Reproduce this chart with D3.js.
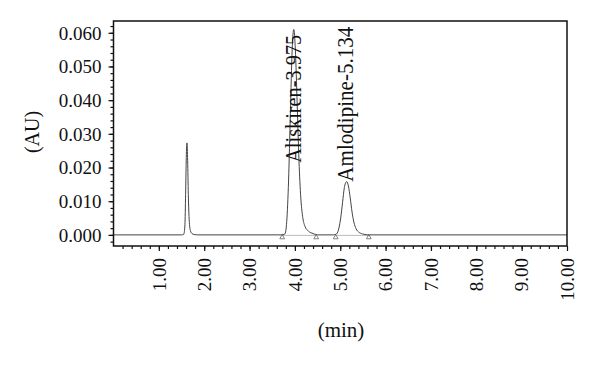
<!DOCTYPE html>
<html>
<head>
<meta charset="utf-8">
<script src="https://cdn.jsdelivr.net/npm/d3@7"></script>
<style>
body { margin: 0; background: #fff; }
svg { display: block; }
text { font-family: "Liberation Serif", "DejaVu Serif", serif; fill: #111; }
</style>
</head>
<body>
<svg width="600" height="365"></svg>
<script>
// chromatogram trace, [time (min), absorbance (AU)]
var trace = [
    [0.00, 0], [1.50, 0], [1.55, 0.0002], [1.575, 0.003], [1.59, 0.012], [1.605, 0.023],
    [1.62, 0.0273], [1.635, 0.022], [1.65, 0.012], [1.665, 0.0055], [1.68, 0.0025],
    [1.70, 0.0011], [1.73, 0.0004], [1.78, 0.0001], [1.85, 0],
    [3.70, 0], [3.78, 0.0003], [3.82, 0.004], [3.86, 0.016], [3.90, 0.036], [3.94, 0.055],
    [3.975, 0.061], [4.01, 0.055], [4.05, 0.039], [4.09, 0.022], [4.13, 0.011],
    [4.17, 0.0055], [4.22, 0.0026], [4.30, 0.0011], [4.40, 0.0004], [4.50, 0],
    [4.85, 0], [4.92, 0.0003], [4.97, 0.002], [5.01, 0.005], [5.05, 0.0095], [5.09, 0.014],
    [5.14, 0.0158], [5.18, 0.0145], [5.22, 0.011], [5.26, 0.0068], [5.30, 0.0038],
    [5.35, 0.0018], [5.41, 0.0008], [5.49, 0.0003], [5.60, 0],
    [10.00, 0]
];

// integration start/end markers
var peakMarks = [[3.72, 4.47], [4.90, 5.63]];

var peakNames = ["Aliskiren-3.975", "Amlodipine-5.134"];
var peakTimes = [3.975, 5.134];
var labelBase = [0.0214, 0.0158];

var xTicks = [1, 2, 3, 4, 5, 6, 7, 8, 9, 10];
var xTickLabels = ["1.00", "2.00", "3.00", "4.00", "5.00", "6.00", "7.00", "8.00", "9.00", "10.00"];
var yTicks = [0, 0.01, 0.02, 0.03, 0.04, 0.05, 0.06];
var yTickLabels = ["0.000", "0.010", "0.020", "0.030", "0.040", "0.050", "0.060"];

var svg = d3.select("svg");
var pLeft = 113.5, pRight = 567, pTop = 21, pBottom = 246;

var x = d3.scaleLinear().domain([0, 10]).range([pLeft, pRight]);
var y = d3.scaleLinear().domain([-0.0033, 0.0635]).range([pBottom, pTop]);

// minor ticks
svg.append("g")
    .attr("transform", "translate(0," + pBottom + ")")
    .call(d3.axisBottom(x).tickValues(d3.range(0.2, 10, 0.2)).tickSize(3).tickFormat(""))
    .call(function(g) { g.select(".domain").remove(); });
svg.append("g")
    .attr("transform", "translate(" + pLeft + ",0)")
    .call(d3.axisLeft(y).tickValues(d3.range(-0.002, 0.0635, 0.002)).tickSize(3).tickFormat(""))
    .call(function(g) { g.select(".domain").remove(); });

// major ticks
var xAxis = svg.append("g")
    .attr("transform", "translate(0," + pBottom + ")")
    .call(d3.axisBottom(x).tickValues(xTicks).tickSize(5)
        .tickFormat(function(d, i) { return xTickLabels[i]; }));
xAxis.select(".domain").remove();
xAxis.selectAll("text")
    .attr("font-size", 19)
    .attr("font-family", "Liberation Serif")
    .attr("fill", "#111")
    .attr("text-anchor", "end")
    .attr("transform", "translate(0,12) rotate(-90)")
    .attr("x", 0).attr("y", 0).attr("dy", "0.33em");

var yAxis = svg.append("g")
    .attr("transform", "translate(" + pLeft + ",0)")
    .call(d3.axisLeft(y).tickValues(yTicks).tickSize(5)
        .tickFormat(function(d, i) { return yTickLabels[i]; }));
yAxis.select(".domain").remove();
yAxis.selectAll("text")
    .attr("font-size", 19)
    .attr("font-family", "Liberation Serif")
    .attr("fill", "#111")
    .attr("x", -12).attr("dy", "0.34em");

svg.selectAll(".tick line").attr("stroke", "#111").attr("stroke-width", 1.2);

// integration baselines and markers
svg.append("g").selectAll("line")
    .data(peakMarks)
    .enter().append("line")
    .attr("x1", function(d) { return x(d[0]); })
    .attr("x2", function(d) { return x(d[1]); })
    .attr("y1", y(0) + 0.5).attr("y2", y(0) + 0.5)
    .attr("stroke", "#bbb").attr("stroke-width", 1);

var tri = d3.symbol().type(d3.symbolTriangle).size(10);
svg.append("g").selectAll("path")
    .data(peakMarks.flat())
    .enter().append("path")
    .attr("d", tri)
    .attr("transform", function(d) { return "translate(" + x(d) + "," + (y(0) + 2.5) + ")"; })
    .attr("fill", "none").attr("stroke", "#666").attr("stroke-width", 0.8);

// trace
var line = d3.line()
    .x(function(d) { return x(d[0]); })
    .y(function(d) { return y(d[1]); })
    .curve(d3.curveMonotoneX);

svg.append("path")
    .datum(trace)
    .attr("d", line)
    .attr("fill", "none")
    .attr("stroke", "#444")
    .attr("stroke-width", 1);

// peak labels
var labelLen = [128, 155];
svg.append("g").selectAll("text")
    .data(peakNames)
    .enter().append("text")
    .attr("transform", function(d, i) {
        return "translate(" + (x(peakTimes[i]) + 7) + "," + y(labelBase[i]) + ") rotate(-90)";
    })
    .attr("font-size", 24)
    .attr("textLength", function(d, i) { return labelLen[i]; })
    .attr("lengthAdjust", "spacingAndGlyphs")
    .text(function(d) { return d; });

// frame
svg.append("rect")
    .attr("x", pLeft).attr("y", pTop)
    .attr("width", pRight - pLeft).attr("height", pBottom - pTop)
    .attr("fill", "none").attr("stroke", "#111").attr("stroke-width", 1.5);

// axis titles
svg.append("text")
    .attr("transform", "translate(39,132) rotate(-90)")
    .attr("text-anchor", "middle")
    .attr("font-size", 20)
    .text("(AU)");

svg.append("text")
    .attr("x", 341).attr("y", 337)
    .attr("text-anchor", "middle")
    .attr("font-size", 21)
    .text("(min)");
</script>
</body>
</html>
